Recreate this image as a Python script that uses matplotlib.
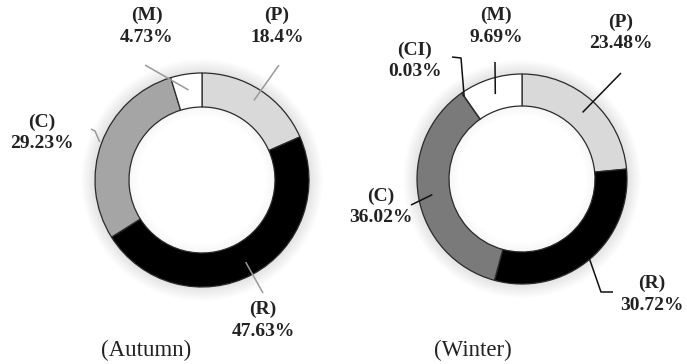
import numpy as np
import matplotlib
matplotlib.use("Agg")
import matplotlib.pyplot as plt
from matplotlib.patches import Circle

# ---- data ----
autumn_labels = ["(P)", "(R)", "(C)", "(M)"]
autumn_values = [18.4, 47.63, 29.23, 4.73]
winter_labels = ["(P)", "(R)", "(C)", "(CI)", "(M)"]
winter_values = [23.48, 30.72, 36.02, 0.03, 9.69]
panel_titles = ["(Autumn)", "(Winter)"]

W, H = 687, 364
fig = plt.figure(figsize=(W / 100, H / 100), dpi=100)
ax = fig.add_axes([0, 0, 1, 1])
ax.set_xlim(0, W)
ax.set_ylim(0, H)
ax.set_aspect("equal")
ax.axis("off")

SERIF = ["Liberation Serif", "DejaVu Serif"]

def y(p):
    return H - p

def donut(center, R, r_in, values, colors):
    # soft glow outside
    for k in range(14, 0, -1):
        ax.add_patch(Circle(center, R + k, color="#000000", alpha=0.009, lw=0, zorder=0))
    # white hole
    ax.add_patch(Circle(center, r_in, color="#ffffff", lw=0, zorder=1))
    # soft inner shadow
    for k in range(1, 10):
        ax.add_patch(Circle(center, r_in - k, color="#000000", alpha=0.02 * (10 - k) / 9,
                            fill=False, lw=1.2, zorder=1.5))
    wedges, _ = ax.pie(values, colors=colors, startangle=90, counterclock=False,
                       radius=R, center=center, frame=True,
                       wedgeprops=dict(width=R - r_in, edgecolor="#2a2a2a", linewidth=0.9))
    for w in wedges:
        w.set_zorder(2)
    return wedges

def mid_angle(w):
    return np.deg2rad((w.theta1 + w.theta2) / 2)

def leader(center, w, r, pts, color):
    a = mid_angle(w)
    x0 = center[0] + r * np.cos(a)
    y0 = center[1] + r * np.sin(a)
    xs = [x0] + [p[0] for p in pts]
    ys = [y0] + [y(p[1]) for p in pts]
    ax.plot(xs, ys, color=color, lw=1.1, zorder=3, solid_capstyle="butt")

def label(x, py, name, val):
    ax.text(x, y(py), name, ha="center", va="center", fontsize=14,
            fontweight="bold", family=SERIF, color="#222222")
    ax.text(x, y(py + 22), val, ha="center", va="center", fontsize=14,
            fontweight="bold", family=SERIF, color="#222222")

# ---- Autumn ----
ca = (202, y(180))
wa = donut(ca, 107, 73, autumn_values, ["#d9d9d9", "#000000", "#a5a5a5", "#ffffff"])
gray = "#9a9a9a"
leader(ca, wa[0], 95, [(279, 65)], gray)
leader(ca, wa[1], 93, [(263, 293)], gray)
leader(ca, wa[2], 109, [(95, 131), (91, 129)], gray)
leader(ca, wa[3], 91, [(145, 65)], gray)
label(277, 15, autumn_labels[0], f"{autumn_values[0]}%")
label(263, 309, autumn_labels[1], f"{autumn_values[1]}%")
label(42, 122, autumn_labels[2], f"{autumn_values[2]}%")
label(147, 15, autumn_labels[3], f"{autumn_values[3]}%")
ax.text(146, y(350), panel_titles[0], ha="center", va="center", fontsize=16.5,
        family=SERIF, color="#222222")

# ---- Winter ----
cw = (522, y(179))
ww = donut(cw, 105, 73, winter_values, ["#d9d9d9", "#000000", "#7a7a7a", "#7a7a7a", "#ffffff"])
blk = "#111111"
leader(cw, ww[0], 90, [(621, 73)], blk)
leader(cw, ww[1], 105, [(601, 292), (613, 292)], blk)
leader(cw, ww[2], 91, [(411, 205)], blk)
leader(cw, ww[3], 101, [(461, 58), (452, 57)], blk)
leader(cw, ww[4], 89, [(495, 62)], blk)
label(621, 22, winter_labels[0], f"{winter_values[0]}%")
label(652, 283, winter_labels[1], f"{winter_values[1]}%")
label(381, 196, winter_labels[2], f"{winter_values[2]}%")
label(415, 50, winter_labels[3], f"{winter_values[3]}%")
label(496, 15, winter_labels[4], f"{winter_values[4]}%")
ax.text(473, y(350), panel_titles[1], ha="center", va="center", fontsize=16.5,
        family=SERIF, color="#222222")

ax.set_xlim(0, W)
ax.set_ylim(0, H)
ax.axis("off")
fig.savefig("out.png", dpi=100, facecolor="white")
